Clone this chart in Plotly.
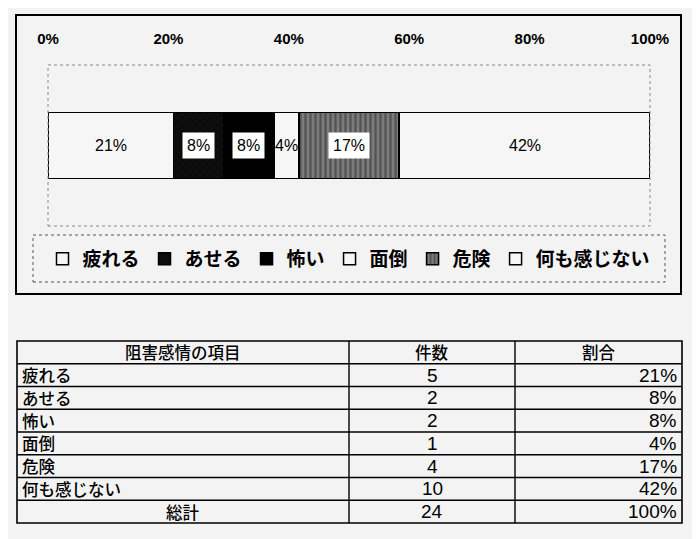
import plotly.graph_objects as go

# ---- data ----
items = ["疲れる", "あせる", "怖い", "面倒", "危険", "何も感じない"]
counts = [5, 2, 2, 1, 4, 10]
header = ["阻害感情の項目", "件数", "割合"]
total_label = "総計"
tick_vals = [0, 0.2, 0.4, 0.6, 0.8, 1.0]
tick_text = ["0%", "20%", "40%", "60%", "80%", "100%"]
category = ["全体"]

total = sum(counts)
shares = [c / total for c in counts]
pct_text = [f"{round(s * 100)}%" for s in shares]
total_pct = f"{round(sum(shares) * 100)}%"

# ---- styles / layout (reference pixel space, page has an 8px body margin) ----
OFF = 8
W, H = 700 - OFF, 539 - OFF
BG = "#f3f3f3"
fills = ["#f6f6f6", "#0a0a0a", "#000000", "#f6f6f6", "#7c7c7c", "#f6f6f6"]
pat_shapes = ["", "x", "", "", "|", ""]
pat_fg = ["#000", "#3a3a3a", "#000", "#000", "#2a2a2a", "#000"]
pat_solid = [0.3, 0.12, 0.3, 0.3, 0.45, 0.3]
dark = [False, True, True, False, True, False]
JP = "Noto Sans CJK JP"
LAT = "Liberation Sans"
NUM = "Liberation Sans Narrow, Liberation Sans, sans-serif"


def px(x):
    return (x - OFF) / W


def py(y):
    return 1 - (y - OFF) / H


fig = go.Figure()
for i, name in enumerate(items):
    fig.add_trace(go.Bar(
        x=[shares[i]], y=category, orientation="h", name=name,
        marker=dict(color=fills[i], line=dict(color="#000", width=1.5),
                    pattern=dict(shape=pat_shapes[i], fgcolor=pat_fg[i],
                                 bgcolor=fills[i], size=5,
                                 solidity=pat_solid[i])),
        hoverinfo="skip",
    ))

# data labels
cum = 0
for i, s in enumerate(shares):
    fig.add_annotation(
        x=cum + s / 2, y=category[0], xref="x", yref="y", text=pct_text[i],
        showarrow=False, font=dict(family=LAT, size=16, color="#000"),
        bgcolor="#ffffff" if dark[i] else "rgba(0,0,0,0)", borderpad=4,
    )
    cum += s

# ---- table (lines + text) ----
col_edges = [17, 349, 515, 682]
row_top, row_h = 341, 22.75
rows = [header] + [[items[i], counts[i], pct_text[i]] for i in range(len(items))] \
    + [[total_label, total, total_pct]]
n_rows = len(rows)
table_bottom = row_top + row_h * n_rows
fig.add_shape(type="rect", xref="paper", yref="paper",
              x0=px(col_edges[0]), x1=px(col_edges[-1]),
              y0=py(table_bottom), y1=py(row_top),
              line=dict(color="#000", width=1.6), fillcolor=BG, layer="below")
for r in range(1, n_rows):
    yy = py(row_top + r * row_h)
    fig.add_shape(type="line", xref="paper", yref="paper",
                  x0=px(col_edges[0]), x1=px(col_edges[-1]), y0=yy, y1=yy,
                  line=dict(color="#000", width=1.4))
for cx in col_edges[1:-1]:
    fig.add_shape(type="line", xref="paper", yref="paper",
                  x0=px(cx), x1=px(cx), y0=py(table_bottom), y1=py(row_top),
                  line=dict(color="#000", width=1.4))
for r, row in enumerate(rows):
    yc = py(row_top + (r + 0.5) * row_h)
    first_center = (r == 0 or r == n_rows - 1)
    for c, val in enumerate(row):
        if c == 0:
            if first_center:
                x, anc = px((col_edges[0] + col_edges[1]) / 2), "center"
            else:
                x, anc = px(col_edges[0] + 3), "left"
        elif c == 1 or r == 0:
            x, anc = px((col_edges[c] + col_edges[c + 1]) / 2), "center"
        else:
            x, anc = px(col_edges[c + 1] - 3), "right"
        is_num = isinstance(val, int) or (isinstance(val, str) and val.endswith("%"))
        fnt = dict(family=NUM, size=19, color="#000") if is_num \
            else dict(family=JP, size=16.5, color="#000", weight=500)
        fig.add_annotation(x=x, y=yc, xref="paper", yref="paper", text=str(val),
                           xanchor=anc, yanchor="middle", showarrow=False,
                           font=fnt)

# frames
fig.add_shape(type="rect", xref="paper", yref="paper",
              x0=px(16), x1=px(681), y0=py(294), y1=py(15),
              line=dict(color="#000", width=2), layer="below")
fig.add_shape(type="rect", xref="paper", yref="paper",
              x0=px(33), x1=px(665), y0=py(282), y1=py(235),
              line=dict(color="#555", width=1, dash="dot"))
fig.add_shape(type="rect", xref="x domain", yref="y domain",
              x0=0, x1=1, y0=0, y1=1,
              line=dict(color="#888", width=1, dash="dot"))

fig.update_layout(
    width=W, height=H, margin=dict(l=0, r=0, t=0, b=0),
    paper_bgcolor=BG, plot_bgcolor=BG,
    barmode="stack", bargap=0.59,
    showlegend=True,
    legend=dict(orientation="h", x=px(349), xanchor="center",
                y=py(259), yanchor="middle",
                bgcolor="rgba(0,0,0,0)", traceorder="normal",
                font=dict(family=JP, size=19, color="#000", weight="bold")),
    xaxis=dict(domain=[px(48), px(650)], range=[0, 1], side="top",
               tickvals=tick_vals, ticktext=tick_text, showgrid=False,
               zeroline=False, ticks="outside", ticklen=14, tickcolor=BG,
               tickfont=dict(family=LAT, size=15, color="#000", weight="bold"),
               automargin=False, fixedrange=True),
    yaxis=dict(domain=[py(226), py(65)], showticklabels=False, showgrid=False,
               zeroline=False, automargin=False, fixedrange=True),
)

fig.write_html("out.html")
